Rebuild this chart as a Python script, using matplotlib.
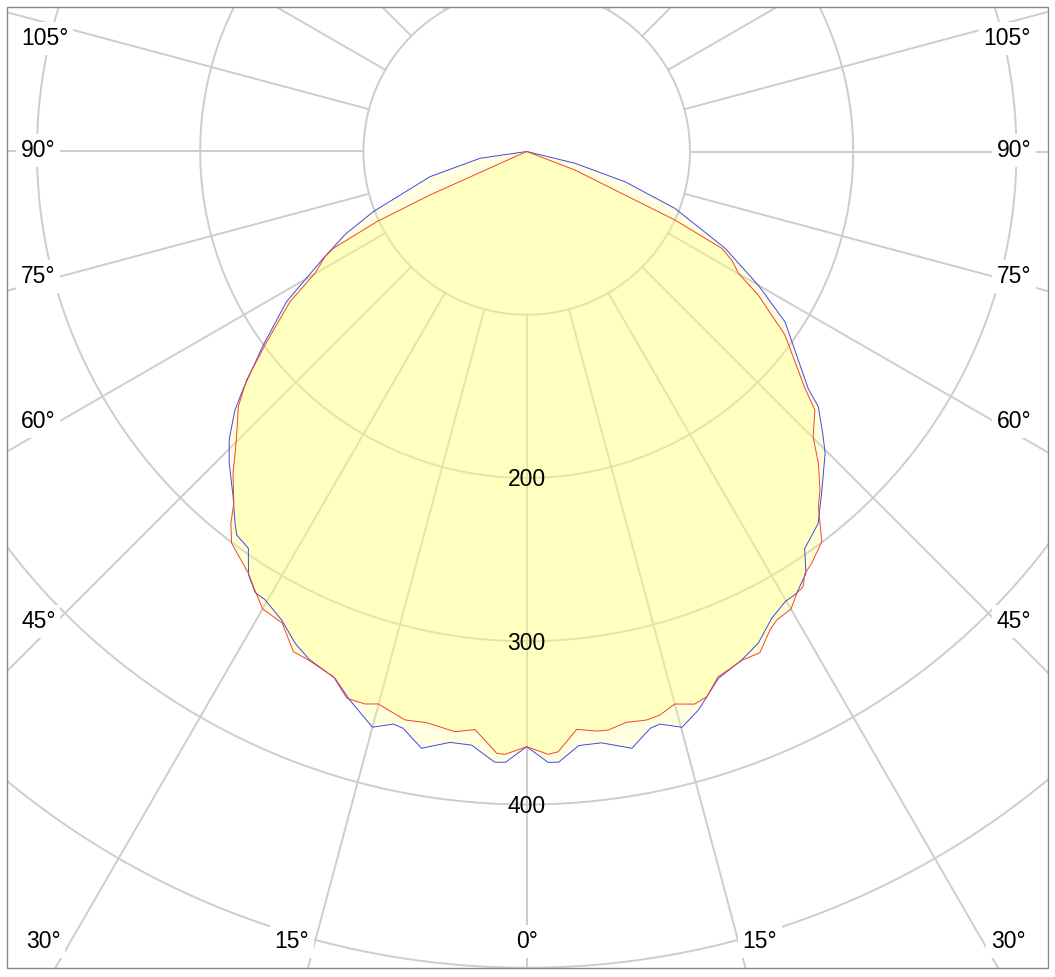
import numpy as np
import matplotlib.pyplot as plt
from matplotlib.patches import Rectangle

# luminous intensity (cd/klm) vs angle from nadir (deg)
# blue = C0-C180 plane, red = C90-C270 plane; right half / left half read separately
blue_right_ang = [0, 2.0, 3.0, 5.0, 7.2, 10.0, 12.1, 13.1, 15.1, 17.1, 20.0, 22.9, 25.2, 27.7,
                  29.9, 31.4, 33.5, 35.0, 38.1, 41.1, 44.7, 46.4, 48.8, 49.9, 56.6, 60.0, 64.0,
                  66.1, 69.0, 72.9, 76.3, 90]
blue_right_val = [364.6, 374.4, 374.6, 365.3, 365.1, 371.2, 361.3, 360.1, 365.3, 357.9, 343.4,
                  338.2, 333.0, 322.9, 317.9, 317.2, 309.9, 296.9, 289.4, 275.1, 259.9, 250.4,
                  237.4, 225.4, 189.5, 163.8, 135.2, 116.1, 97.3, 63.0, 30.5, 0]

blue_left_ang = [0, 2.0, 3.0, 5.3, 7.4, 10.0, 12.1, 13.1, 15.0, 17.9, 20.0, 23.2, 25.2, 27.6,
                 30.3, 31.6, 33.3, 35.05, 37.1, 38.1, 40.4, 43.65, 45.9, 47.0, 48.45, 50.1,
                 53.7, 58.0, 62.3, 65.5, 68.6, 75.4, 81.7, 90]
blue_left_val = [364.6, 374.4, 374.6, 365.2, 365.0, 371.2, 361.3, 360.1, 365.1, 353.0, 343.4,
                 338.4, 333.0, 323.9, 317.9, 317.3, 310.4, 296.9, 294.5, 289.5, 277.5, 264.0,
                 253.8, 247.1, 238.8, 226.2, 200.2, 173.4, 140.7, 122.0, 100.9, 61.2, 28.9, 0]

red_right_ang = [0, 2.05, 3.0, 4.95, 6.9, 8.0, 9.9, 11.9, 13.3, 15.0, 16.9, 18.3, 20.0, 23.0,
                 24.95, 26.95, 28.1, 30.0, 31.5, 32.4, 33.4, 34.6, 37.1, 39.4, 40.9, 43.1,
                 45.1, 48.1, 49.6, 54.6, 58.2, 60.1, 62.1, 63.6, 65.2, 66.1, 69.0, 90]
red_right_val = [364.6, 369.5, 368.2, 355.3, 357.6, 357.9, 355.0, 355.9, 354.7, 350.4, 353.8,
                 351.7, 342.5, 338.4, 338.6, 328.8, 325.3, 323.7, 317.0, 315.9, 309.6, 307.0,
                 299.7, 281.5, 274.4, 261.5, 247.7, 237.2, 223.8, 194.1, 166.9, 149.6, 142.1,
                 133.4, 100.1, 65.9, 31.7, 0]

red_left_ang = [0, 2.06, 2.85, 5.1, 7.05, 9.93, 12.08, 15.03, 16.3, 18.2, 20.2, 23.2, 25.0,
                27.4, 30.0, 32.0, 33.4, 37.0, 38.5, 39.8, 42.4, 44.0, 45.8, 48.5, 50.8, 53.8,
                57.6, 60.1, 62.45, 63.4, 64.9, 65.8, 90]
red_left_val = [364.6, 369.5, 369.1, 355.5, 358.1, 355.2, 356.1, 350.4, 352.6, 352.6, 342.8,
                339.0, 338.1, 325.4, 323.5, 315.3, 309.6, 300.4, 291.1, 280.3, 266.8, 257.1,
                247.7, 235.9, 221.4, 197.3, 171.7, 149.6, 139.4, 132.5, 101.4, 65.0, 0]

grid_angles = np.arange(0, 360, 15)
grid_radii = [100, 200, 300, 400, 500, 600]
radial_labels = [200, 300, 400]

W, H = 1055, 977
fig = plt.figure(figsize=(W / 100, H / 100), dpi=100)
plt.rcParams['font.family'] = ['Liberation Sans', 'DejaVu Sans']

# polar axes bigger than the figure; the visible window is the framed rectangle
cx, cy = 526.7, H - 151.5
px_per_unit = 1.6325
rmax = 700
R = rmax * px_per_unit
ax = fig.add_axes([(cx - R) / W, (cy - R) / H, 2 * R / W, 2 * R / H], projection='polar')
ax.set_theta_zero_location('S')
ax.set_theta_direction(1)
ax.set_ylim(0, rmax)
ax.grid(False)
ax.set_xticks([])
ax.set_yticks([])
ax.spines['polar'].set_visible(False)
ax.patch.set_visible(False)

gcol = '#cdcdcd'
for a in grid_angles:
    ax.plot([np.radians(a)] * 2, [100, rmax], color=gcol, lw=1.4, zorder=1)
circ = np.linspace(0, 2 * np.pi, 1441)
for rr in grid_radii:
    ax.plot(circ, np.full_like(circ, rr), color=gcol, lw=1.4, zorder=1)


def whole_curve(ang_r, val_r, ang_l, val_l):
    th = np.concatenate([-np.array(ang_l[::-1], float), np.array(ang_r[1:], float)])
    rr = np.concatenate([np.array(val_l[::-1], float), np.array(val_r[1:], float)])
    return np.radians(th), rr


tb, rb = whole_curve(blue_right_ang, blue_right_val, blue_left_ang, blue_left_val)
tr, rr_ = whole_curve(red_right_ang, red_right_val, red_left_ang, red_left_val)

ax.fill(tb, rb, color='#ffff80', alpha=0.24, lw=0, zorder=2)
ax.fill(tr, rr_, color='#ffff80', alpha=0.33, lw=0, zorder=2)
ax.plot(tb, rb, color='#4444ee', lw=0.7, zorder=3)
ax.plot(tr, rr_, color='#f0442e', lw=0.7, zorder=3)

for v in radial_labels:
    ax.annotate(str(v), xy=(0, v), xytext=(0, -6), textcoords='offset points',
                ha='center', va='baseline', fontsize=16.5, zorder=5)

# angle labels on the frame (pixel positions, baseline)
lab_kw = dict(fontsize=16.5, va='baseline',
              bbox=dict(boxstyle='square,pad=0.2', fc='white', ec='none'))
side = [('105°', 45), ('90°', 157), ('75°', 283), ('60°', 428), ('45°', 628)]
for txt, yb in side:
    fig.text(21 / W, 1 - yb / H, txt, ha='left', **lab_kw)
    fig.text(1031 / W, 1 - yb / H, txt, ha='right', **lab_kw)
bottom = [('30°', 43), ('15°', 292), ('0°', 527), ('15°', 760), ('30°', 1008)]
for txt, xc in bottom:
    fig.text(xc / W, 1 - 948 / H, txt, ha='center', **lab_kw)

# white margins + frame
for x0, y0, w, h in [(0, 0, 7, H), (1048, 0, 7, H), (0, 0, W, 9), (0, 970, W, 7)]:
    fig.add_artist(Rectangle((x0 / W, y0 / H), w / W, h / H, transform=fig.transFigure,
                             fc='white', ec='none', zorder=10))
fig.add_artist(Rectangle((7 / W, 9 / H), 1041 / W, 961 / H, transform=fig.transFigure,
                         fill=False, ec='#8a8a8a', lw=1.0, zorder=11))

fig.savefig('out.png', dpi=100)
